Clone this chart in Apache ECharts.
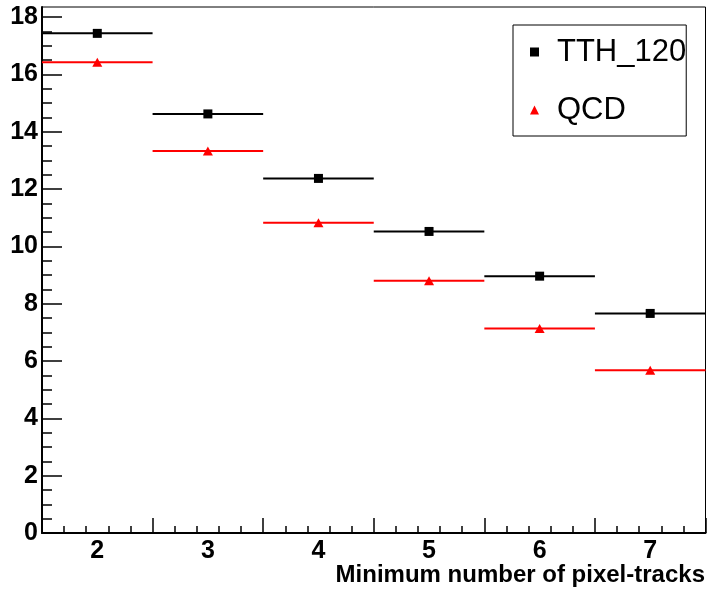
<!DOCTYPE html>
<html>
<head>
<meta charset="utf-8">
<script src="https://cdn.jsdelivr.net/npm/echarts@6/dist/echarts.min.js"></script>
<style>
html,body{margin:0;padding:0;background:#fff;}
#c{width:707px;height:592px;}
</style>
</head>
<body>
<div id="c"></div>
<script>
// Data
var categories = [2, 3, 4, 5, 6, 7];
var binWidth = 1;
var tthValues = [17.43, 14.62, 12.37, 10.52, 8.96, 7.66];
var qcdValues = [16.42, 13.33, 10.82, 8.80, 7.13, 5.68];
var yMajorTicks = [0, 2, 4, 6, 8, 10, 12, 14, 16, 18];
var yMinorTicks = [0.5, 1, 1.5, 2.5, 3, 3.5, 4.5, 5, 5.5, 6.5, 7, 7.5, 8.5, 9, 9.5, 10.5, 11, 11.5, 12.5, 13, 13.5, 14.5, 15, 15.5, 16.5, 17, 17.5];
var xLabels = [2, 3, 4, 5, 6, 7];

var FONT = 'Liberation Sans, Arial, Helvetica, sans-serif';

function pairs(vals) {
  return categories.map(function (c, i) { return [c, vals[i]]; });
}

function binRenderer(color) {
  return function (params, api) {
    var x = api.value(0), y = api.value(1);
    var p1 = api.coord([x - binWidth / 2, y]);
    var p2 = api.coord([x + binWidth / 2, y]);
    return {
      type: 'line',
      shape: { x1: p1[0], y1: p1[1], x2: p2[0], y2: p2[1] },
      style: { stroke: color, lineWidth: 2 }
    };
  };
}

var chart = echarts.init(document.getElementById('c'), null, { renderer: 'canvas' });
chart.setOption({
  animation: false,
  backgroundColor: '#fff',
  grid: { left: 42, right: 1.5, top: 7, bottom: 59, show: true, borderColor: '#000', borderWidth: 1, backgroundColor: 'transparent' },
  xAxis: {
    type: 'value', min: 1.5, max: 7.5, interval: 1,
    axisLine: { lineStyle: { color: '#000', width: 2 } },
    axisTick: { inside: true, length: 15, lineStyle: { color: '#000', width: 1.5 } },
    minorTick: { show: true, splitNumber: 5, length: 7, lineStyle: { color: '#000', width: 1.5 } },
    axisLabel: { customValues: xLabels, color: '#000', fontFamily: FONT, fontWeight: 'bold', fontSize: 25, margin: 6 },
    splitLine: { show: false }
  },
  yAxis: [{
    type: 'value', min: 0, max: 18.35, position: 'left',
    axisLine: { lineStyle: { color: '#000', width: 2 } },
    axisTick: { inside: true, length: 20, customValues: yMajorTicks, lineStyle: { color: '#000', width: 1.5 } },
    axisLabel: { customValues: yMajorTicks, color: '#000', fontFamily: FONT, fontWeight: 'bold', fontSize: 25, margin: 4 },
    splitLine: { show: false }
  }, {
    type: 'value', min: 0, max: 18.35, position: 'left', offset: 0,
    axisLine: { show: false },
    axisTick: { inside: true, length: 10, customValues: yMinorTicks, lineStyle: { color: '#000', width: 1.5 } },
    axisLabel: { show: false },
    splitLine: { show: false }
  }],
  legend: {
    orient: 'vertical',
    left: 513, top: 25,
    width: 175,
    data: [{ name: 'TTH_120', icon: 'rect' }, { name: 'QCD', icon: 'triangle' }],
    itemWidth: 9, itemHeight: 9,
    itemGap: 22,
    padding: [9, 0, 8, 17],
    borderColor: '#000', borderWidth: 1,
    backgroundColor: '#fff',
    textStyle: { color: '#000', fontFamily: FONT, fontSize: 31, lineHeight: 36, padding: [0, 0, 0, 13] }
  },
  graphic: [{
    type: 'text', right: 2, top: 563,
    style: { text: 'Minimum number of pixel-tracks', fill: '#000', font: 'bold 24px ' + FONT }
  }],
  series: [
    { type: 'custom', name: 'TTH_120 bins', data: pairs(tthValues), renderItem: binRenderer('#000'), z: 2, silent: true },
    { type: 'custom', name: 'QCD bins', data: pairs(qcdValues), renderItem: binRenderer('#ff0000'), z: 2, silent: true },
    { type: 'scatter', name: 'TTH_120', data: pairs(tthValues), symbol: 'rect', symbolSize: 9, itemStyle: { color: '#000', opacity: 1 }, z: 3 },
    { type: 'scatter', name: 'QCD', data: pairs(qcdValues), symbol: 'triangle', symbolSize: [10, 9], itemStyle: { color: '#ff0000', opacity: 1 }, z: 3 }
  ]
});
</script>
</body>
</html>
